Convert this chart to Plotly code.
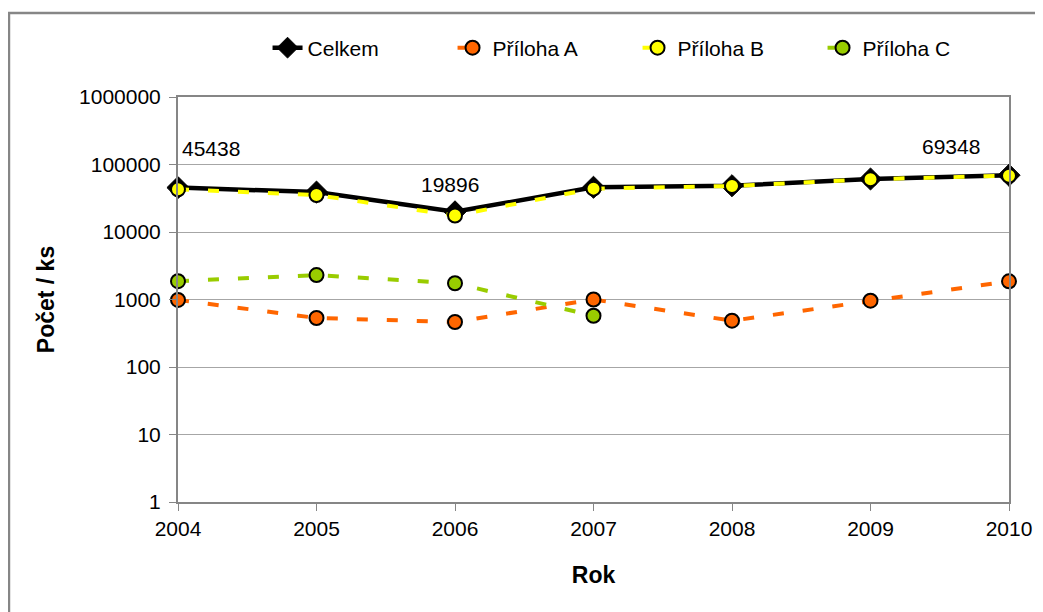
import math
import plotly.graph_objects as go

years = [2004, 2005, 2006, 2007, 2008, 2009, 2010]
celkem = [45438, 39000, 19896, 46000, 48500, 61000, 69348]
priloha_a = [985, 532, 464, 1000, 485, 960, 1860]
priloha_b = [43000, 35300, 17500, 43900, 48000, 60500, 68200]
years_c = [2004, 2005, 2006, 2007]
priloha_c = [1870, 2300, 1740, 575]

label_years = [2004, 2006, 2010]
label_values = [45438, 19896, 69348]
label_shift_x = [33, -5, -58]
label_shift_y = [39, 27, 29]

y_tickvals = [1, 10, 100, 1000, 10000, 100000, 1000000]
y_ticktext = ["1", "10", "100", "1000", "10000", "100000", "1000000"]

FONT = "Liberation Sans, Arial, sans-serif"
GRAY = "#868686"
FS = 21

fig = go.Figure()

fig.add_trace(go.Scatter(
    x=years, y=celkem, name="Celkem", mode="lines+markers",
    line=dict(color="black", width=4.5),
    marker=dict(symbol="diamond", size=17, color="black", line=dict(color="black", width=1)),
    cliponaxis=False,
))
fig.add_trace(go.Scatter(
    x=years, y=priloha_a, name="Příloha A", mode="lines+markers",
    line=dict(color="#FF6600", width=4, dash="11px,19px"),
    marker=dict(symbol="circle", size=14, color="#FF6600", line=dict(color="black", width=2)),
    cliponaxis=False,
))
fig.add_trace(go.Scatter(
    x=years, y=priloha_b, name="Příloha B", mode="lines+markers",
    line=dict(color="#FFFF00", width=4, dash="11px,19px"),
    marker=dict(symbol="circle", size=14, color="#FFFF00", line=dict(color="black", width=2)),
    cliponaxis=False,
))
fig.add_trace(go.Scatter(
    x=years_c, y=priloha_c, name="Příloha C", mode="lines+markers",
    line=dict(color="#99CC00", width=4, dash="11px,19px"),
    marker=dict(symbol="circle", size=14, color="#99CC00", line=dict(color="black", width=2)),
    cliponaxis=False,
))

annotations = []
for yr, val, sx, sy in zip(label_years, label_values, label_shift_x, label_shift_y):
    annotations.append(dict(
        x=yr, y=math.log10(val), xref="x", yref="y", text=str(val),
        showarrow=False, xshift=sx, yshift=sy,
        font=dict(family=FONT, size=FS, color="black"),
    ))

fig.update_layout(
    width=1035, height=604,
    margin=dict(l=170, r=34, t=89, b=110),
    paper_bgcolor="white", plot_bgcolor="white",
    font=dict(family=FONT, size=FS, color="black"),
    showlegend=True,
    legend=dict(
        orientation="h", x=0.553, xanchor="center", y=1.121, yanchor="middle",
        font=dict(family=FONT, size=FS, color="black"),
        entrywidth=140, entrywidthmode="pixels",
        bgcolor="rgba(0,0,0,0)",
    ),
    annotations=annotations,
    shapes=[dict(
        type="rect", xref="paper", yref="paper",
        x0=-0.2034, x1=1.2, y0=-0.4, y1=1.2074,
        line=dict(color=GRAY, width=2.5), fillcolor="rgba(0,0,0,0)", layer="below",
    )],
)

fig.update_xaxes(
    range=[2004, 2010], tickvals=years, ticktext=[str(y) for y in years],
    showline=True, linecolor=GRAY, linewidth=2, mirror=True,
    ticks="outside", ticklen=7, tickcolor=GRAY, tickwidth=1,
    showgrid=False, zeroline=False,
    tickfont=dict(family=FONT, size=FS),
    title=dict(text="<b>Rok</b>", font=dict(family=FONT, size=23), standoff=28),
)
fig.update_yaxes(
    type="log", range=[0, 6], tickvals=y_tickvals, ticktext=y_ticktext,
    showline=True, linecolor=GRAY, linewidth=2, mirror=True,
    ticks="outside", ticklen=7, tickcolor=GRAY, tickwidth=1,
    showgrid=True, gridcolor="#A6A6A6", gridwidth=1, zeroline=False,
    tickfont=dict(family=FONT, size=FS), ticklabelstandoff=4,
    title=dict(text="<b>Počet / ks</b>", font=dict(family=FONT, size=23), standoff=18),
)

fig.write_html("out.html")
